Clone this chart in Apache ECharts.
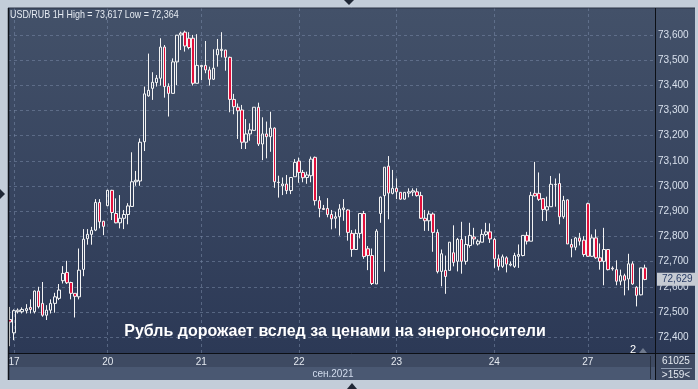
<!DOCTYPE html>
<html><head><meta charset="utf-8">
<script src="https://cdn.jsdelivr.net/npm/echarts@6/dist/echarts.min.js"></script>
<style>html,body{margin:0;padding:0;background:#c3cdd9;overflow:hidden}#c{width:698px;height:389px}</style>
</head><body><div id="c"></div>
<script>
// ---- data (USD/RUB, 1H bars) ----
const opens = [72.47,72.417,72.501,72.501,72.505,72.518,72.501,72.583,72.534,72.487,
72.507,72.534,72.554,72.624,72.657,72.617,72.574,72.560,72.669,72.791,
72.808,72.825,72.935,72.860,72.922,72.983,72.891,72.854,72.872,72.887,
72.919,73.017,73.020,73.176,73.358,73.388,73.411,73.428,73.552,73.396,
73.368,73.493,73.600,73.611,73.587,73.587,73.408,73.474,73.479,73.461,
73.424,73.521,73.538,73.540,73.511,73.344,73.313,73.302,73.174,73.207,
73.221,73.313,73.167,73.207,73.196,73.230,73.015,73.001,73.008,72.982,
73.037,73.099,73.054,73.034,73.041,73.114,72.942,72.911,72.911,72.887,
72.872,72.878,72.906,72.905,72.812,72.748,72.812,72.891,72.751,72.724,
72.611,72.891,72.962,73.079,72.971,72.991,72.975,72.948,72.972,72.976,
72.977,72.962,72.872,72.862,72.889,72.816,72.661,72.665,72.665,72.735,
72.701,72.788,72.701,72.764,72.798,72.770,72.777,72.808,72.818,72.788,
72.711,72.681,72.715,72.686,72.681,72.721,72.724,72.804,72.781,72.971,
72.971,72.950,72.905,72.918,73.005,73.010,72.878,72.945,72.768,72.757,
72.794,72.785,72.930,72.721,72.794,72.715,72.701,72.748,72.674,72.668,
72.622,72.644,72.631,72.691,72.598,72.568,72.675];
const closes = [72.46,72.505,72.507,72.510,72.513,72.510,72.583,72.521,72.487,72.507,
72.534,72.560,72.587,72.653,72.616,72.574,72.562,72.666,72.789,72.808,
72.824,72.935,72.858,72.840,72.983,72.895,72.854,72.872,72.887,72.921,
73.017,73.023,73.174,73.366,73.380,73.412,73.428,73.552,73.395,73.368,
73.493,73.599,73.607,73.556,73.550,73.408,73.479,73.479,73.461,73.424,
73.468,73.543,73.543,73.511,73.344,73.315,73.299,73.174,73.207,73.223,
73.313,73.167,73.207,73.196,73.230,73.017,73.014,73.008,72.982,73.034,
73.094,73.054,73.033,73.044,73.107,72.942,72.911,72.907,72.887,72.870,
72.878,72.909,72.913,72.816,72.748,72.812,72.891,72.720,72.724,72.613,
72.821,72.956,73.075,72.972,72.991,72.977,72.948,72.975,72.977,72.981,
72.962,72.872,72.862,72.889,72.816,72.660,72.731,72.641,72.777,72.697,
72.788,72.701,72.768,72.804,72.790,72.781,72.808,72.818,72.790,72.711,
72.681,72.719,72.690,72.690,72.724,72.728,72.804,72.781,72.963,72.961,
72.947,72.907,72.918,73.007,73.007,72.878,72.943,72.770,72.757,72.794,
72.781,72.728,72.721,72.794,72.715,72.701,72.748,72.668,72.671,72.622,
72.644,72.626,72.691,72.611,72.566,72.675,72.629];
const lows = [72.364,72.388,72.494,72.494,72.494,72.494,72.494,72.514,72.481,72.468,
72.494,72.497,72.547,72.613,72.611,72.550,72.478,72.550,72.642,72.767,
72.767,72.821,72.832,72.805,72.920,72.865,72.852,72.832,72.829,72.848,
72.919,73.001,73.001,73.139,73.355,73.342,73.395,73.399,73.351,73.276,
73.368,73.401,73.540,73.534,73.543,73.399,73.408,73.421,73.448,73.399,
73.421,73.474,73.511,73.458,73.293,73.285,73.187,73.147,73.147,73.180,
73.220,73.159,73.103,73.110,73.136,72.993,72.954,72.964,72.968,72.968,
73.037,73.013,73.015,73.009,73.015,72.923,72.876,72.905,72.876,72.828,
72.832,72.803,72.862,72.783,72.719,72.748,72.792,72.711,72.666,72.607,
72.611,72.854,72.660,72.868,72.967,72.948,72.946,72.946,72.955,72.960,
72.958,72.869,72.822,72.822,72.739,72.653,72.602,72.572,72.665,72.681,
72.661,72.652,72.688,72.755,72.768,72.764,72.777,72.801,72.774,72.675,
72.665,72.675,72.657,72.681,72.675,72.675,72.721,72.768,72.781,72.958,
72.941,72.861,72.861,72.918,72.918,72.848,72.870,72.770,72.717,72.745,
72.764,72.719,72.719,72.719,72.711,72.668,72.606,72.665,72.664,72.606,
72.606,72.566,72.586,72.608,72.522,72.566,72.626];
const highs = [72.52,72.510,72.514,72.518,72.531,72.550,72.585,72.600,72.619,72.527,
72.550,72.576,72.611,72.682,72.703,72.620,72.575,72.752,72.829,72.829,
72.838,72.948,72.948,72.862,72.985,72.985,72.951,72.964,72.905,72.932,
73.134,73.060,73.189,73.395,73.526,73.452,73.441,73.587,73.560,73.408,
73.507,73.600,73.613,73.617,73.611,73.600,73.603,73.480,73.576,73.474,
73.543,73.584,73.611,73.541,73.514,73.366,73.328,73.322,73.266,73.249,
73.313,73.331,73.273,73.256,73.295,73.233,73.041,73.034,73.044,73.034,
73.107,73.113,73.064,73.057,73.117,73.117,72.960,72.925,72.952,72.905,
72.898,72.928,72.948,72.908,72.825,72.828,72.891,72.901,72.762,72.752,
72.829,72.958,73.075,73.119,73.064,73.030,72.975,72.976,72.991,72.991,
72.991,72.977,72.905,72.902,72.895,72.828,72.748,72.724,72.777,72.844,
72.794,72.858,72.801,72.854,72.834,72.788,72.828,72.854,72.852,72.794,
72.728,72.728,72.721,72.701,72.735,72.768,72.804,72.818,72.977,73.096,
73.054,72.950,72.958,73.040,73.030,73.050,72.961,72.947,72.790,72.798,
72.814,72.801,72.934,72.808,72.828,72.772,72.834,72.748,72.681,72.705,
72.668,72.652,72.731,72.701,72.602,72.675,72.688];
const dayLabels = ['17','20','21','22','23','24','27'];
const dayStarts = [1,24,47,71,95,119,142];
const firstDay = '16';
const yTicks = [72.4,72.5,72.6,72.7,72.8,72.9,73.0,73.1,73.2,73.3,73.4,73.5,73.6];
const lastPrice = 72.629;
const titleText = 'USD/RUB 1H High = 73,617 Low = 72,364';
const captionText = 'Рубль дорожает вслед за ценами на энергоносители';
const monthLabel = 'сен.2021';
const counterTop = '61025';
const counterBottom = '>159<';
const paneNumber = '2';

// ---- build ----
const categories = opens.map((_, k) => {
  let d = firstDay;
  for (let j = 0; j < dayStarts.length; j++) if (k >= dayStarts[j]) d = dayLabels[j];
  return d;
});
const axisCats = categories.concat(['', '']);
const candles = opens.map((o, k) => [o, closes[k], lows[k], highs[k]]);
const fmt = v => v.toFixed(3).replace('.', ',');
const startSet = new Set(dayStarts);
const FN = "'Liberation Sans',Arial,sans-serif";
const gridColor = 'rgba(120,136,165,0.55)';

const markData = yTicks.map(v => ({
  yAxis: v,
  label: { formatter: fmt(v) }
})).concat(dayStarts.map(k => ({ xAxis: k, label: { show: false } })))
  .concat([{
    yAxis: lastPrice,
    lineStyle: { color: 'rgba(0,0,0,0)' },
    label: { formatter: fmt(lastPrice), backgroundColor: '#c6cbd3', color: '#2a3d66',
             padding: [2, 12, 1, 5], distance: 2 }
  }]);

const chart = echarts.init(document.getElementById('c'), null, { renderer: 'canvas' });
const LG = new echarts.graphic.LinearGradient(0, 0, 0, 1, [
  { offset: 0, color: '#435169' }, { offset: 1, color: '#2c3956' }]);

chart.setOption({
  animation: false,
  backgroundColor: '#c3cdd9',
  grid: { left: 8, right: 43, top: 8, bottom: 36, containLabel: false },
  xAxis: {
    type: 'category', data: axisCats, boundaryGap: true,
    axisLine: { show: false }, axisTick: { show: false }, splitLine: { show: false },
    axisLabel: {
      interval: (i) => startSet.has(i),
      color: '#e4e9f0', fontFamily: FN, fontSize: 10, margin: 4
    }
  },
  yAxis: {
    type: 'value', position: 'right', min: 72.337, max: 73.707, scale: true,
    axisLine: { show: false }, axisTick: { show: false },
    axisLabel: { show: false }, splitLine: { show: false }
  },
  graphic: [
    { type: 'rect', z: -10, silent: true, shape: { x: 8, y: 8, width: 687, height: 345 }, style: { fill: LG } },
    { type: 'rect', z: -10, silent: true, shape: { x: 8, y: 353, width: 687, height: 14 }, style: { fill: '#3e4a62' } },
    { type: 'rect', z: -10, silent: true, shape: { x: 8, y: 367, width: 647, height: 13 }, style: { fill: '#4a5872' } },
    { type: 'rect', z: -10, silent: true, shape: { x: 655, y: 367, width: 40, height: 13 }, style: { fill: '#3e4a62' } },
    { type: 'line', z: 50, silent: true, shape: { x1: 8, y1: 8, x2: 695, y2: 8 }, style: { stroke: '#2a3345', lineWidth: 1 } },
    { type: 'line', z: 50, silent: true, shape: { x1: 8.5, y1: 8, x2: 8.5, y2: 380 }, style: { stroke: '#10141c', lineWidth: 1.5 } },
    { type: 'line', z: 50, silent: true, shape: { x1: 655.5, y1: 8, x2: 655.5, y2: 380 }, style: { stroke: '#0c0f15', lineWidth: 1 } },
    { type: 'line', z: 50, silent: true, shape: { x1: 8, y1: 353.5, x2: 695, y2: 353.5 }, style: { stroke: '#0c0f15', lineWidth: 1 } },
    { type: 'line', z: 50, silent: true, shape: { x1: 650.5, y1: 356, x2: 650.5, y2: 379 }, style: { stroke: '#262e3c', lineWidth: 1 } },
    { type: 'line', z: 50, silent: true, shape: { x1: 661, y1: 368.5, x2: 692, y2: 368.5 }, style: { stroke: '#8e9bb0', lineWidth: 1 } },
    { type: 'polygon', z: 50, silent: true, shape: { points: [[344, 0], [354, 0], [349, 5]] }, style: { fill: '#1f2735' } },
    { type: 'polygon', z: 50, silent: true, shape: { points: [[0, 189], [0, 199], [5, 194]] }, style: { fill: '#1f2735' } },
    { type: 'polygon', z: 50, silent: true, shape: { points: [[347, 389], [357, 389], [352, 383]] }, style: { fill: '#1f2735' } },
    { type: 'polygon', z: 50, silent: true, shape: { points: [[639, 353], [647, 353], [643, 348]] }, style: { fill: '#6f7a8e' } },
    { type: 'text', z: 50, silent: true, x: 10, y: 15, scaleX: 0.85, style: { text: titleText, fill: '#e6ebf2', font: '10.5px ' + FN, textVerticalAlign: 'middle' } },
    { type: 'text', z: 50, silent: true, x: 335, y: 332, style: { text: captionText, fill: '#ffffff', font: 'bold 16px "Liberation Sans",Arial,sans-serif', textAlign: 'center', textVerticalAlign: 'middle' } },
    { type: 'text', z: 50, silent: true, x: 333, y: 374, style: { text: monthLabel, fill: '#d2dcee', font: '10px ' + FN, textAlign: 'center', textVerticalAlign: 'middle' } },
    { type: 'text', z: 50, silent: true, x: 633, y: 350, style: { text: paneNumber, fill: '#ffffff', font: '11px ' + FN, textAlign: 'center', textVerticalAlign: 'middle' } },
    { type: 'text', z: 50, silent: true, x: 676, y: 361, style: { text: counterTop, fill: '#e4e9f0', font: '10px ' + FN, textAlign: 'center', textVerticalAlign: 'middle' } },
    { type: 'text', z: 50, silent: true, x: 676, y: 375, style: { text: counterBottom, fill: '#e4e9f0', font: '10px ' + FN, textAlign: 'center', textVerticalAlign: 'middle' } }
  ],
  series: [{
    type: 'candlestick',
    data: candles,
    barWidth: 3,
    z: 3,
    itemStyle: {
      color: 'rgba(0,0,0,0)', color0: '#e2103c',
      borderColor: '#f4f4f4', borderColor0: '#f4f4f4', borderColorDoji: '#f4f4f4', borderWidth: 1
    },
    markLine: {
      z: 1, silent: true, symbol: 'none', animation: false,
      lineStyle: { color: gridColor, type: [3, 3], width: 1 },
      label: { position: 'end', distance: 3, color: '#d8e0ec', fontFamily: FN, fontSize: 10 },
      data: markData
    }
  }]
});
</script></body></html>
